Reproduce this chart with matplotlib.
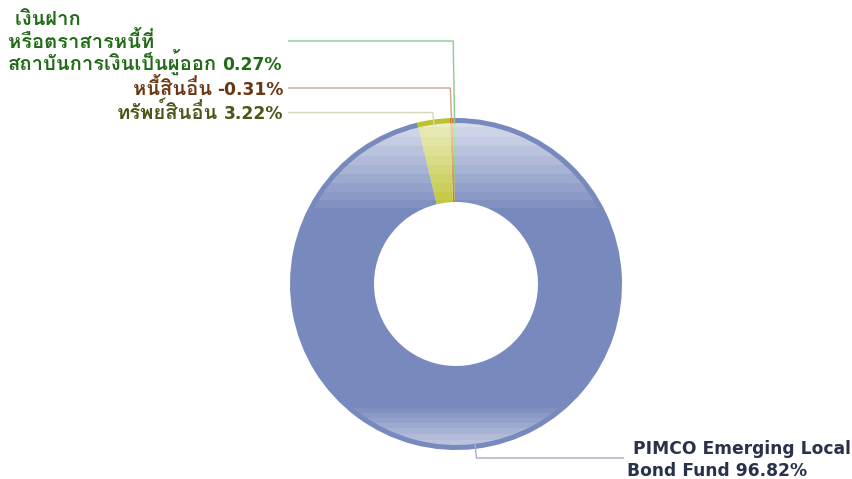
import numpy as np
import matplotlib
matplotlib.use("Agg")
import matplotlib.pyplot as plt
from matplotlib import font_manager, ft2font
from matplotlib.patches import Wedge

# asset allocation (percent of NAV), order as drawn from 12 o'clock, counter-clockwise
labels = ["เงินฝาก\nหรือตราสารหนี้ที่\nสถาบันการเงินเป็นผู้ออก",
          "หนี้สินอื่น",
          "ทรัพย์สินอื่น",
          "PIMCO Emerging Local\nBond Fund"]
values = [0.27, -0.31, 3.22, 96.82]
colors = ["#3cbf3c", "#d2611e", "#bcc22e", "#7789bd"]
text_colors = ["#216b16", "#6b3814", "#4f5516", "#28324b"]
line_colors = ["#8ccc8c", "#cfa488", "#d6d6b8", "#a6aec4"]

# installed family with Thai glyphs, preferring one that has a bold face
thai_fonts = []
for f in font_manager.fontManager.ttflist:
    try:
        if 0x0E01 in ft2font.FT2Font(f.fname).get_charmap():
            w = f.weight if isinstance(f.weight, int) else (700 if "bold" in str(f.weight) else 400)
            thai_fonts.append((w >= 600, f.name))
    except Exception:
        pass
thai_fonts.sort(key=lambda t: not t[0])
thai = thai_fonts[0][1] if thai_fonts else "DejaVu Sans"
fam = ["DejaVu Sans", thai]

W, H = 852, 479
fig = plt.figure(figsize=(W / 100, H / 100), dpi=100)
ax = fig.add_axes([0, 0, 1, 1])
ax.set_xlim(0, W)
ax.set_ylim(0, H)

cx, cy = 456, H - 284
R, r_in, rim = 166, 82, 5

sizes = np.abs(values)
wedges, _ = ax.pie(sizes, colors=colors, startangle=90, counterclock=True,
                   center=(cx, cy), radius=R,
                   wedgeprops=dict(width=R - r_in, edgecolor="none"))

# glossy bands at top and bottom, clipped to each slice (rim left solid)
yy = np.linspace(-1, 1, 400)
alpha = np.zeros_like(yy)
top = yy > 0.42
alpha[top] = 0.78 * ((yy[top] - 0.42) / 0.58) ** 0.9
bot = yy < -0.72
alpha[bot] = 0.62 * ((-yy[bot] - 0.72) / 0.28) ** 0.9
alpha = np.floor(alpha * 14) / 14
img = np.ones((len(yy), 1, 4))
img[:, 0, 3] = alpha
for w in wedges:
    clip = Wedge((cx, cy), R - rim, w.theta1, w.theta2, width=R - rim - r_in,
                 fill=False, edgecolor="none")
    ax.add_patch(clip)
    im = ax.imshow(img, extent=(cx - R, cx + R, cy - R, cy + R), origin="lower",
                   aspect="auto", interpolation="nearest", zorder=2)
    im.set_clip_path(clip)

ax.set_xlim(0, W)
ax.set_ylim(0, H)
ax.set_aspect("auto")
ax.axis("off")

renderer = fig.canvas.get_renderer()


def width_px(t):
    return t.get_window_extent(renderer).width


# labels and leader lines
text_x = [8, 283, 283, 627]
text_y = [41, 88, 112.5, 458]        # y (pixels from top) where the leader meets the label
line_end = [288, 288, 288, 624]
line_h = [22.5, 22, 22, 22]
lat_size, thai_size = 12.35, 14.5
for i, w in enumerate(wedges):
    mid = np.deg2rad((w.theta1 + w.theta2) / 2)
    px = cx + (R - 6) * np.cos(mid)
    py = cy + (R - 6) * np.sin(mid)
    ly = H - text_y[i]
    ex = px + (1.5 if i == 3 else -1.5)
    ax.plot([px, ex, line_end[i]], [py, ly, ly], color=line_colors[i],
            lw=1.0, zorder=3, solid_capstyle="butt")
    pct = "%.2f%%" % values[i]
    lines = labels[i].split("\n")
    n = len(lines)
    kw = dict(va="baseline", fontweight="bold", color=text_colors[i],
              family=fam, zorder=4)
    for k, s in enumerate(lines):
        base = ly - 6.5 - (k - (n - 1) / 2) * line_h[i]
        last = k == n - 1
        if i == 3:
            s = (" " + s) if k == 0 else s
            if last:
                s = s + " " + pct
            ax.text(text_x[i], base, s, ha="left", fontsize=lat_size, **kw)
        elif i == 0:
            s = (" " + s) if k == 0 else s
            t = ax.text(text_x[i], base, s, ha="left", fontsize=thai_size, **kw)
            if last:
                ax.text(text_x[i] + width_px(t) + 5, base, pct, ha="left",
                        fontsize=lat_size, **kw)
        else:
            t = ax.text(text_x[i], base, pct, ha="right", fontsize=lat_size, **kw)
            ax.text(text_x[i] - width_px(t) - 5, base, s, ha="right",
                    fontsize=thai_size, **kw)

fig.savefig("out.png", dpi=100)
